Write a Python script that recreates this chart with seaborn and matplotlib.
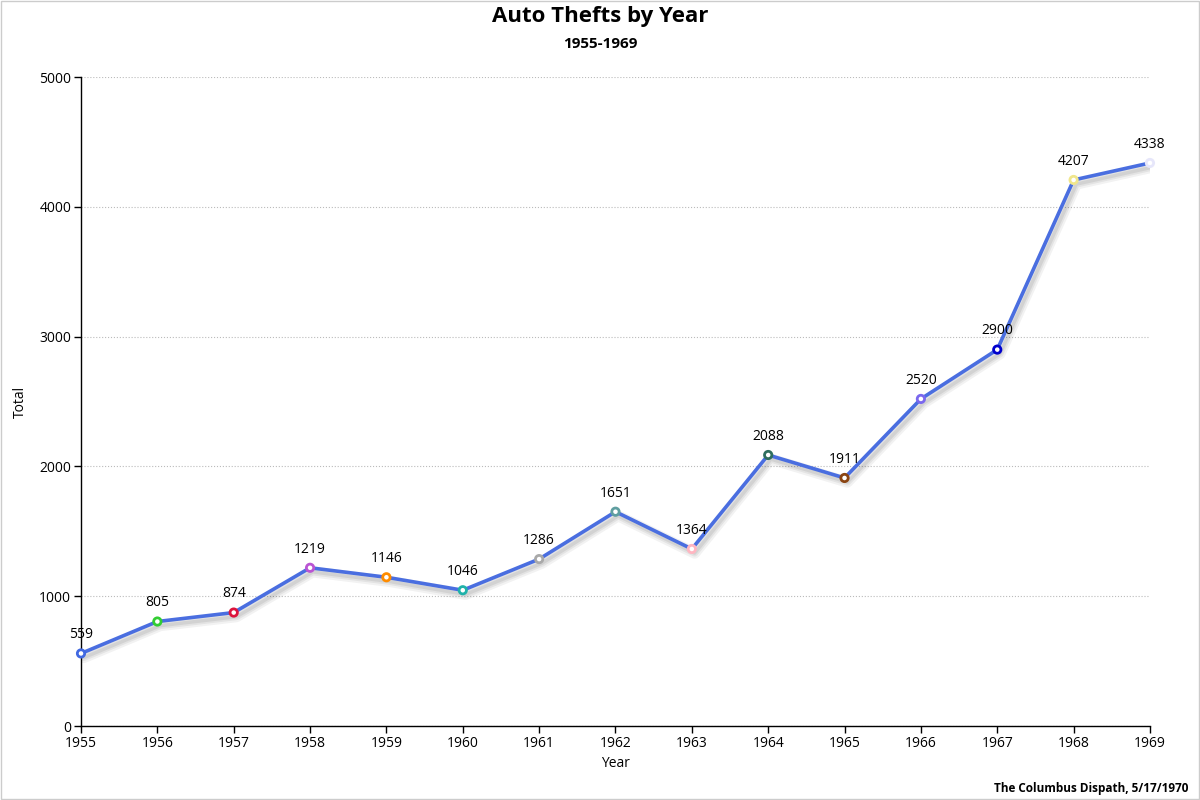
import matplotlib
matplotlib.use("Agg")
import matplotlib.pyplot as plt
import matplotlib.patheffects as pe
import seaborn as sns
import pandas as pd

years = [1955, 1956, 1957, 1958, 1959, 1960, 1961, 1962,
         1963, 1964, 1965, 1966, 1967, 1968, 1969]
totals = [559, 805, 874, 1219, 1146, 1046, 1286, 1651,
          1364, 2088, 1911, 2520, 2900, 4207, 4338]
point_colors = ["#4169e1", "#32cd32", "#dc143c", "#ba55d3", "#ff8c00",
                "#20b2aa", "#a9a9a9", "#5f9ea0", "#ffb6c1", "#2f6f5f",
                "#8b4513", "#7b68ee", "#0000cd", "#f0e68c", "#e6e6fa"]

df = pd.DataFrame({"Year": years, "Total": totals})

sns.set_theme(style="white")
plt.rcParams["font.family"] = ["Open Sans", "DejaVu Sans"]
plt.rcParams["text.color"] = "black"
plt.rcParams["axes.labelcolor"] = "black"
plt.rcParams["xtick.color"] = "black"
plt.rcParams["ytick.color"] = "black"

fig = plt.figure(figsize=(12, 8), dpi=100)
ax = fig.add_axes([0.0675, 0.0925, 0.8908, 0.8112])

# fake a soft drop shadow with a few faint strokes
shadow = [pe.SimpleLineShadow(offset=(2, -3), shadow_color="black", alpha=0.05, linewidth=8),
          pe.SimpleLineShadow(offset=(2, -3), shadow_color="black", alpha=0.06, linewidth=5),
          pe.SimpleLineShadow(offset=(2, -3), shadow_color="black", alpha=0.07, linewidth=2.5),
          pe.Normal()]
sns.lineplot(data=df, x="Year", y="Total", ax=ax, color="#4a6ee0",
             linewidth=2.6, path_effects=shadow, zorder=3)

# the little ring markers, one colour each
ax.scatter(years, totals, s=28, facecolor="white", edgecolor=point_colors,
           linewidth=2, zorder=4, clip_on=False)

for x, y in zip(years, totals):
    ax.annotate(str(y), (x, y), xytext=(0, 8), textcoords="offset points",
                ha="center", va="bottom", fontsize=10, color="black", zorder=5)

ax.set_xlim(1955, 1969)
ax.set_ylim(0, 5000)
ax.set_xticks(years)
ax.set_xticklabels([str(y) for y in years])
ax.set_yticks([0, 1000, 2000, 3000, 4000, 5000])
ax.yaxis.grid(True, linestyle=":", color="#bbbbbb", linewidth=0.8)
ax.xaxis.grid(False)

for s in ["top", "right"]:
    ax.spines[s].set_visible(False)
for s in ["left", "bottom"]:
    ax.spines[s].set_color("black")
    ax.spines[s].set_linewidth(1)

ax.tick_params(axis="both", which="major", length=5, width=1, color="black",
               labelsize=10, pad=2, direction="out", bottom=True, left=True)
ax.set_xlabel("Year", fontsize=10, labelpad=4)
ax.set_ylabel("Total", fontsize=10, labelpad=8)

fig.text(0.5, 0.979, "Auto Thefts by Year", ha="center", va="center",
         fontsize=16, fontweight="bold")
fig.text(0.5, 0.945, "1955-1969", ha="center", va="center",
         fontsize=11, fontweight="bold")
fig.text(0.99, 0.014, "The Columbus Dispath, 5/17/1970", ha="right", va="center",
         fontsize=8.5, fontweight="bold")

# thin grey frame round the whole picture
fig.patches.append(plt.Rectangle((0.0005, 0.0008), 0.999, 0.9985, transform=fig.transFigure,
                                 fill=False, edgecolor="#cccccc", linewidth=1))

fig.savefig("out.png", dpi=100)
